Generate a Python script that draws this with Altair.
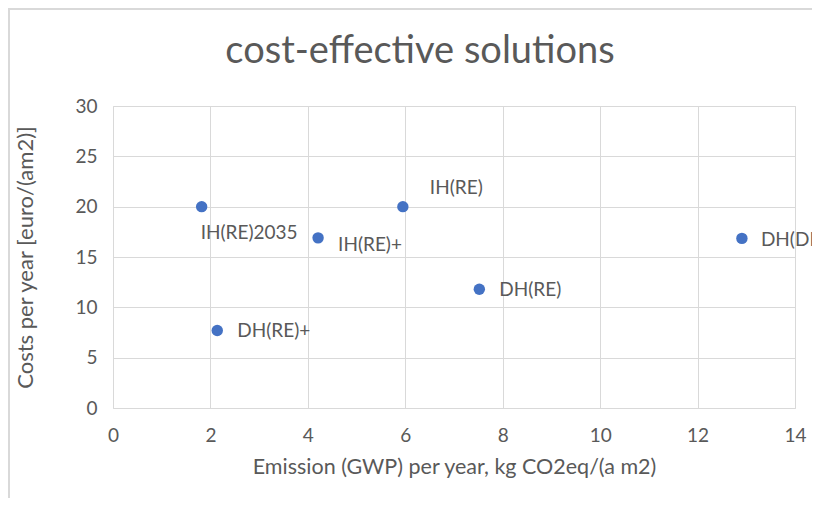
import altair as alt
import pandas as pd

labels = ["IH(RE)2035", "DH(RE)+", "IH(RE)+", "IH(RE)", "DH(RE)", "DH(DK)"]
emission = [1.82, 2.14, 4.21, 5.95, 7.52, 12.91]
costs = [20.0, 7.7, 16.9, 20.0, 11.8, 16.85]
title_text = "cost-effective solutions"

df = pd.DataFrame({"label": labels, "emission": emission, "costs": costs})

FONT = "Lato"
GREY = "#595959"
GRID = "#d9d9d9"

x = alt.X("emission:Q", scale=alt.Scale(domain=[0, 14]),
          axis=alt.Axis(values=list(range(0, 15, 2)), title="Emission (GWP) per year, kg CO2eq/(a m2)",
                        grid=True, gridColor=GRID, domain=False, ticks=False, labelFlush=False,
                        labelPadding=18, titlePadding=11, labelFontSize=19, titleFontSize=21.5,
                        labelColor=GREY, titleColor=GREY, labelFont=FONT, titleFont=FONT,
                        titleFontWeight="normal"))
y = alt.Y("costs:Q", scale=alt.Scale(domain=[0, 30]),
          axis=alt.Axis(values=list(range(0, 31, 5)), title="Costs per year [euro/(am2)]",
                        grid=True, gridColor=GRID, domain=False, ticks=False, labelFlush=False,
                        labelPadding=16, titlePadding=37, labelFontSize=19, titleFontSize=22,
                        labelColor=GREY, titleColor=GREY, labelFont=FONT, titleFont=FONT,
                        titleFontWeight="normal"))

base = alt.Chart(df).encode(x=x, y=y)
points = base.mark_circle(size=130, color="#4472C4", opacity=1)

offsets = {
    "IH(RE)2035": (-1, 26),
    "DH(RE)+": (20, 1),
    "IH(RE)+": (20, 7),
    "IH(RE)": (27, -19),
    "DH(RE)": (20, 1),
    "DH(DK)": (19, 2),
}
texts = []
for lab, (dx, dy) in offsets.items():
    texts.append(
        base.transform_filter(alt.datum.label == lab)
        .mark_text(align="left", baseline="middle", dx=dx, dy=dy, fontSize=19,
                   font=FONT, color=GREY, clip=False)
        .encode(text="label:N")
    )

title = alt.Chart(pd.DataFrame({"t": [title_text]})).mark_text(
    align="center", baseline="middle", fontSize=38, font=FONT, color=GREY
).encode(text="t:N", x=alt.value(307), y=alt.value(-54))

frame_left = alt.Chart(df).mark_rule(color=GRID, strokeWidth=2).encode(
    x=alt.value(-104), y=alt.value(-98), y2=alt.value(400))
frame_top = alt.Chart(df).mark_rule(color=GRID, strokeWidth=2).encode(
    x=alt.value(-105), x2=alt.value(720), y=alt.value(-97))

chart = alt.layer(points, *texts, title, frame_left, frame_top).properties(
    width=682, height=302,
    autosize=alt.AutoSizeParams(type="none"),
    padding={"left": 105, "top": 98, "right": 17, "bottom": 90},
).configure_view(stroke=None).configure(background="white")

chart.save("out.html", embed_options={"renderer": "svg", "actions": False})
